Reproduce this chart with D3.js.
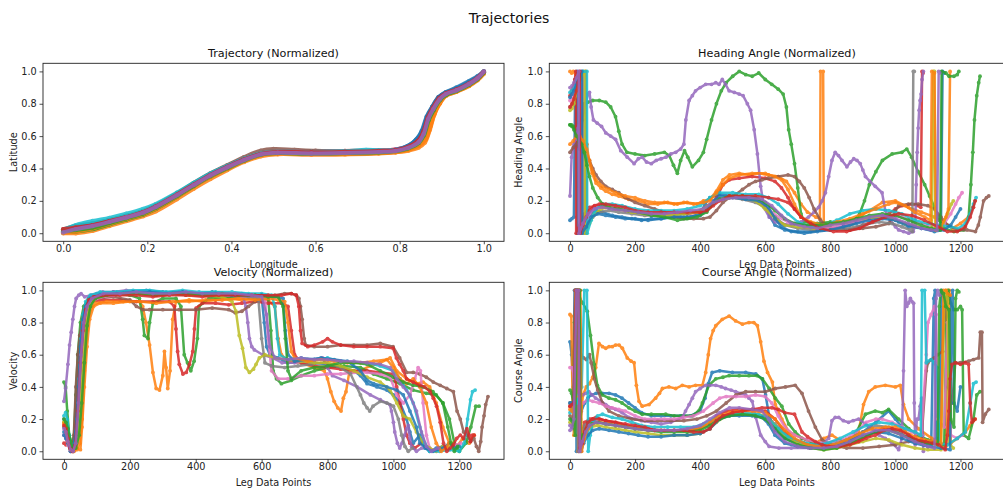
<!DOCTYPE html>
<html>
<head>
<meta charset="utf-8">
<script src="https://cdn.jsdelivr.net/npm/d3@7"></script>
<style>
  body { margin: 0; background: #fff; }
  svg { display: block; }
  text { font-family: "DejaVu Sans", sans-serif; }
</style>
</head>
<body>
<svg id="fig" width="1003" height="494"></svg>
<script>
// One colour per leg (matplotlib tab10 cycle)
const legColors = ["#1f77b4","#ff7f0e","#2ca02c","#d62728","#9467bd","#8c564b","#e377c2","#7f7f7f","#bcbd22","#17becf","#1f77b4","#ff7f0e","#2ca02c","#d62728","#9467bd"];

const unitTicks = [0, 0.2, 0.4, 0.6, 0.8, 1.0];
const pointTicks = [0, 200, 400, 600, 800, 1000, 1200];

// Normalized track of every leg: [longitude, latitude]
const trackLegs = [
  [[0,.01],[.03,.035],[.07,.055],[.11,.08],[.15,.105],[.19,.135],[.22,.17],[.27,.24],[.31,.305],[.35,.365],[.39,.415],[.43,.46],[.47,.495],[.51,.505],[.59,.5],[.67,.502],[.75,.51],[.79,.515],[.82,.54],[.84,.58],[.855,.64],[.865,.72],[.878,.78],[.893,.84],[.91,.872],[.935,.9],[.965,.94],[.985,.97],[.998,.995]],
  [[0,0],[.03,0],[.07,.015],[.11,.045],[.15,.075],[.19,.105],[.22,.135],[.27,.21],[.31,.275],[.35,.335],[.39,.39],[.43,.44],[.47,.475],[.51,.488],[.59,.485],[.67,.487],[.75,.492],[.79,.5],[.82,.51],[.845,.53],[.86,.56],[.872,.64],[.882,.73],[.895,.8],[.91,.85],[.935,.875],[.965,.91],[.985,.945],[1,.985]],
  [[0,.01],[.03,.01],[.07,.025],[.11,.055],[.15,.085],[.19,.115],[.22,.15],[.27,.225],[.31,.29],[.35,.35],[.39,.4],[.43,.448],[.47,.485],[.51,.495],[.59,.49],[.67,.492],[.75,.497],[.79,.505],[.82,.52],[.845,.55],[.858,.6],[.87,.7],[.882,.765],[.897,.825],[.912,.858],[.935,.88],[.965,.92],[.985,.955],[1,.995]],
  [[0,.02],[.03,.04],[.07,.055],[.11,.08],[.15,.105],[.19,.135],[.22,.17],[.27,.242],[.31,.305],[.35,.362],[.39,.412],[.43,.458],[.47,.495],[.51,.505],[.59,.505],[.67,.508],[.75,.512],[.79,.518],[.82,.535],[.842,.57],[.856,.63],[.866,.72],[.878,.78],[.893,.84],[.91,.865],[.935,.888],[.965,.928],[.985,.962],[1,1]],
  [[0,.005],[.03,.03],[.07,.05],[.11,.075],[.15,.1],[.19,.13],[.22,.165],[.27,.237],[.31,.3],[.35,.36],[.39,.41],[.43,.455],[.47,.49],[.51,.5],[.59,.495],[.67,.498],[.75,.504],[.79,.51],[.82,.53],[.845,.566],[.857,.617],[.868,.71],[.88,.77],[.895,.83],[.91,.862],[.935,.885],[.965,.925],[.985,.96],[1,1]],
  [[0,.025],[.03,.045],[.07,.06],[.11,.08],[.15,.105],[.19,.135],[.22,.17],[.27,.245],[.31,.31],[.35,.37],[.39,.42],[.43,.47],[.47,.51],[.5,.52],[.55,.515],[.6,.51],[.67,.508],[.75,.51],[.79,.515],[.82,.53],[.845,.565],[.857,.615],[.868,.705],[.88,.765],[.895,.825],[.91,.858],[.935,.882],[.965,.92],[.985,.955],[1,.995]],
  [[0,.015],[.03,.035],[.07,.05],[.11,.078],[.15,.103],[.19,.132],[.22,.168],[.27,.24],[.31,.302],[.35,.362],[.39,.412],[.43,.458],[.47,.492],[.51,.503],[.59,.502],[.67,.505],[.75,.512],[.79,.518],[.82,.535],[.845,.57],[.857,.62],[.868,.712],[.88,.772],[.895,.832],[.91,.864],[.935,.887],[.965,.927],[.985,.962],[1,1]],
  [[0,.02],[.03,.04],[.07,.06],[.11,.082],[.15,.108],[.19,.138],[.22,.172],[.27,.244],[.31,.306],[.35,.366],[.39,.416],[.43,.46],[.47,.497],[.51,.507],[.59,.503],[.67,.505],[.75,.51],[.79,.515],[.82,.532],[.845,.566],[.857,.615],[.868,.705],[.88,.768],[.895,.828],[.91,.86],[.935,.884],[.965,.924],[.985,.958],[1,.998]],
  [[0,.005],[.03,.02],[.07,.04],[.11,.068],[.15,.095],[.19,.125],[.22,.16],[.27,.232],[.31,.295],[.35,.355],[.39,.405],[.43,.45],[.47,.486],[.51,.497],[.59,.493],[.67,.495],[.75,.5],[.79,.507],[.82,.524],[.845,.556],[.859,.61],[.87,.705],[.882,.768],[.896,.828],[.911,.86],[.935,.882],[.965,.92],[.985,.955],[1,.995]],
  [[0,.02],[.03,.05],[.07,.075],[.11,.095],[.15,.12],[.19,.15],[.22,.18],[.27,.25],[.31,.31],[.35,.368],[.39,.415],[.43,.46],[.47,.492],[.51,.502],[.59,.502],[.67,.506],[.72,.515],[.75,.512],[.79,.515],[.82,.532],[.845,.566],[.857,.617],[.868,.71],[.88,.77],[.895,.83],[.91,.862],[.935,.886],[.965,.926],[.985,.96],[1,1]],
  [[0,.01],[.03,.03],[.07,.048],[.11,.072],[.15,.098],[.19,.128],[.22,.163],[.27,.235],[.31,.298],[.35,.358],[.39,.408],[.43,.453],[.47,.488],[.51,.498],[.59,.494],[.67,.497],[.75,.505],[.79,.515],[.82,.54],[.838,.575],[.852,.63],[.864,.72],[.877,.78],[.892,.84],[.91,.87],[.935,.895],[.965,.935],[.985,.965],[1,.998]],
  [[0,.005],[.03,.01],[.07,.03],[.11,.058],[.15,.088],[.19,.118],[.22,.152],[.27,.226],[.31,.29],[.35,.35],[.39,.4],[.43,.448],[.47,.483],[.51,.493],[.59,.49],[.67,.49],[.75,.495],[.79,.5],[.82,.515],[.845,.54],[.862,.58],[.873,.66],[.883,.74],[.896,.805],[.91,.85],[.935,.874],[.965,.912],[.985,.948],[1,.99]],
  [[0,.015],[.03,.02],[.07,.035],[.11,.063],[.15,.092],[.19,.122],[.22,.157],[.27,.23],[.31,.293],[.35,.353],[.39,.403],[.43,.45],[.47,.486],[.51,.496],[.59,.492],[.67,.495],[.75,.5],[.79,.508],[.82,.525],[.845,.558],[.858,.608],[.869,.7],[.881,.762],[.896,.824],[.911,.856],[.935,.879],[.965,.918],[.985,.952],[1,.993]],
  [[0,.025],[.03,.035],[.07,.05],[.11,.075],[.15,.1],[.19,.13],[.22,.165],[.27,.238],[.31,.3],[.35,.36],[.39,.41],[.43,.456],[.47,.49],[.51,.502],[.59,.5],[.67,.503],[.75,.508],[.79,.513],[.82,.533],[.843,.57],[.856,.625],[.867,.715],[.879,.775],[.894,.835],[.91,.865],[.935,.888],[.965,.926],[.985,.96],[1,.998]],
  [[0,.005],[.03,.025],[.07,.045],[.11,.07],[.15,.097],[.19,.127],[.22,.162],[.27,.234],[.31,.297],[.35,.357],[.39,.407],[.43,.452],[.47,.487],[.51,.497],[.59,.493],[.67,.496],[.75,.502],[.79,.508],[.82,.527],[.845,.562],[.857,.613],[.868,.706],[.88,.767],[.895,.827],[.91,.86],[.935,.883],[.965,.922],[.985,.957],[1,.998]]
];

// Normalized heading per leg: [data point index, value]
const headingLegs = [
  [[0,.08],[6,.09],[12,.1],[16,.95],[22,1],[23,0],[35,.03],[50,.08],[65,.12],[80,.14],[100,.13],[130,.11],[160,.1],[190,.09],[220,.08],[250,.09],[280,.09],[310,.1],[340,.1],[370,.1],[400,.12],[415,.18],[430,.22],[460,.24],[500,.23],[540,.22],[580,.21],[600,.17],[615,.1],[630,.05],[660,.02],[700,.01],[740,.01],[780,.02],[820,.03],[860,.05],[900,.08],[940,.1],[980,.1],[1010,.07],[1040,.04],[1080,.03],[1110,.02],[1140,.03],[1145,1],[1150,.99]],
  [[0,1],[5,.99],[10,1],[20,.97],[30,.98],[40,.99],[48,1],[50,0],[52,.55],[58,.45],[68,.37],[80,.31],[95,.28],[110,.26],[130,.24],[150,.23],[180,.21],[210,.2],[240,.18],[270,.18],[300,.19],[330,.18],[360,.19],[390,.18],[410,.2],[430,.21],[450,.26],[470,.33],[490,.36],[520,.37],[550,.36],[580,.37],[610,.36],[640,.35],[665,.32],[690,.25],[710,.18],[730,.13],[755,.1],[768,.09],[770,1],[778,1],[780,.06],[800,.06],[840,.06],[880,.09],[920,.14],[960,.19],[1000,.2],[1040,.16],[1080,.13],[1120,.1],[1150,.07],[1175,.03],[1200,.06],[1225,.1],[1238,.16],[1245,.2]],
  [[0,.67],[5,.67],[10,.66],[14,.65],[20,.6],[26,.55],[32,.52],[38,.7],[45,.8],[55,.81],[70,.82],[90,.82],[110,.81],[125,.78],[140,.72],[150,.63],[160,.55],[175,.5],[200,.49],[230,.48],[260,.49],[290,.5],[305,.48],[318,.42],[330,.37],[340,.45],[352,.51],[362,.47],[376,.41],[395,.45],[410,.5],[420,.58],[435,.7],[450,.8],[465,.88],[480,.93],[500,.97],[520,1],[540,.98],[560,.97],[580,.99],[600,.95],[620,.92],[640,.89],[655,.86],[665,.78],[672,.64],[680,.55],[690,.43],[700,.28],[710,.12],[720,.07],[760,.06],[800,.07],[840,.06],[870,.06],[890,.12],[905,.2],[920,.3],[940,.38],[960,.45],[990,.49],[1020,.5],[1035,.52],[1050,.47],[1070,.38],[1090,.3],[1105,.23],[1120,.16],[1135,.08],[1150,.03],[1180,.01],[1210,.02],[1225,.1],[1232,.3],[1238,.5],[1243,.7],[1250,.85],[1256,.93],[1260,.97]],
  [[0,.85],[5,.88],[10,.9],[15,.95],[18,1],[19,0],[30,.05],[45,.12],[60,.16],[80,.17],[110,.16],[140,.15],[170,.14],[200,.13],[240,.12],[280,.12],[320,.12],[360,.12],[400,.13],[430,.16],[450,.22],[470,.3],[490,.33],[520,.34],[560,.35],[600,.34],[630,.32],[650,.28],[670,.22],[690,.15],[710,.1],[740,.06],[780,.03],[820,.02],[860,.02],[900,.05],[940,.08],[980,.12],[1000,.15],[1020,.17],[1050,.18],[1070,.17],[1078,.16],[1082,1],[1085,.99]],
  [[0,.23],[5,.47],[12,.55],[17,.58],[25,.65],[33,.72],[40,.76],[48,.8],[55,.86],[60,.87],[65,.78],[72,.7],[84,.68],[97,.66],[110,.62],[125,.6],[140,.58],[156,.51],[176,.47],[197,.43],[210,.46],[222,.47],[235,.44],[250,.43],[265,.45],[280,.46],[295,.47],[310,.49],[325,.5],[340,.52],[350,.55],[356,.7],[366,.82],[376,.85],[386,.88],[400,.9],[417,.92],[435,.92],[448,.93],[458,.92],[468,.95],[478,.92],[489,.88],[505,.87],[520,.86],[532,.85],[545,.8],[555,.76],[566,.64],[576,.49],[586,.29],[596,.16],[612,.1],[630,.07],[650,.06],[680,.05],[710,.07],[733,.1],[750,.13],[764,.16],[775,.2],[785,.25],[795,.35],[805,.45],[815,.5],[825,.48],[836,.45],[851,.41],[862,.44],[872,.46],[882,.45],[892,.43],[900,.39],[908,.35],[922,.32],[938,.29],[959,.25],[969,.14],[984,.08],[1000,.04],[1010,.02],[1025,.01],[1041,0],[1055,.01],[1061,.05],[1064,.3],[1067,.5],[1070,.65],[1073,.76],[1076,.82],[1079,.86],[1082,.95],[1086,1]],
  [[0,.5],[10,.53],[20,.55],[30,.52],[40,.5],[50,.48],[60,.45],[70,.4],[80,.36],[95,.32],[110,.29],[130,.27],[150,.25],[170,.22],[200,.19],[230,.17],[260,.15],[290,.13],[320,.1],[350,.09],[380,.09],[410,.09],[430,.1],[450,.14],[470,.19],[490,.22],[510,.24],[530,.27],[550,.3],[570,.32],[590,.33],[610,.34],[640,.35],[670,.36],[690,.35],[705,.32],[720,.28],[735,.22],[750,.15],[770,.08],[790,.04],[820,.03],[860,.02],[900,.03],[940,.04],[980,.06],[1000,.14],[1010,.17],[1040,.18],[1070,.18],[1100,.17],[1120,.15],[1140,.1],[1160,.05],[1190,.02],[1220,.02],[1246,.01],[1255,.05],[1261,.1],[1271,.2],[1280,.22],[1287,.23]],
  [[0,.82],[8,.85],[15,.9],[25,.95],[33,1],[34,0],[45,.05],[60,.12],[80,.17],[100,.18],[130,.17],[160,.15],[200,.13],[240,.12],[280,.12],[320,.12],[360,.13],[400,.14],[430,.18],[460,.21],[500,.22],[540,.22],[580,.2],[610,.15],[640,.1],[670,.07],[700,.06],[740,.04],[780,.03],[820,.04],[860,.06],[900,.08],[940,.1],[980,.11],[1020,.1],[1060,.07],[1100,.05],[1130,.04],[1150,.06],[1170,.12],[1185,.18],[1195,.22],[1205,.25]],
  [[0,.78],[8,.8],[16,.85],[30,.95],[40,1],[42,0],[55,.06],[70,.1],[90,.13],[120,.14],[150,.13],[190,.12],[230,.11],[270,.11],[310,.11],[350,.12],[390,.13],[420,.17],[450,.2],[490,.22],[530,.21],[570,.19],[600,.16],[630,.1],[660,.05],[700,.03],[750,.02],[800,.02],[850,.03],[900,.05],[950,.07],[990,.06],[1020,.04],[1045,.02],[1052,.01],[1055,1],[1058,1]],
  [[0,.76],[6,.77],[12,.8],[22,.9],[35,.97],[46,1],[47,0],[60,.06],[75,.12],[95,.15],[120,.16],[150,.15],[190,.13],[230,.12],[270,.11],[310,.11],[350,.12],[390,.13],[420,.16],[450,.2],[490,.22],[530,.22],[570,.2],[600,.15],[630,.09],[660,.05],[700,.04],[750,.03],[800,.05],[850,.07],[900,.09],[950,.1],[990,.09],[1030,.06],[1070,.04],[1100,.03],[1112,.03],[1117,1],[1120,1],[1123,.02],[1145,.05],[1160,.12],[1172,.18],[1178,.2]],
  [[0,.87],[5,.88],[12,.9],[22,.94],[32,.98],[40,1],[52,1],[53,0],[65,.08],[80,.15],[100,.18],[130,.18],[160,.17],[200,.15],[240,.14],[280,.14],[320,.14],[360,.15],[400,.17],[430,.22],[460,.25],[500,.25],[540,.24],[580,.24],[610,.22],[640,.18],[670,.12],[700,.07],[740,.04],[780,.05],[820,.08],[860,.12],[900,.14],[940,.15],[980,.14],[1020,.12],[1060,.08],[1100,.06],[1140,.05],[1170,.04],[1195,.03],[1215,.06],[1230,.12],[1240,.18],[1248,.22]],
  [[0,.84],[6,.86],[12,.88],[20,.92],[28,.97],[36,1],[37,0],[50,.04],[65,.1],[85,.12],[110,.11],[140,.1],[170,.09],[200,.09],[240,.08],[280,.09],[320,.1],[360,.1],[400,.11],[420,.14],[440,.2],[460,.23],[500,.22],[540,.21],[580,.2],[610,.16],[630,.09],[650,.04],[680,.01],[720,0],[760,.01],[800,.02],[840,.04],[880,.06],[920,.08],[960,.09],[1000,.08],[1040,.05],[1080,.03],[1120,.01],[1150,.02],[1170,.05],[1185,.1],[1200,.15]],
  [[0,.55],[10,.57],[20,.6],[30,.6],[40,.57],[50,.52],[60,.45],[70,.38],[80,.33],[100,.29],[120,.27],[140,.25],[170,.23],[200,.22],[230,.2],[260,.19],[290,.19],[320,.18],[350,.19],[380,.18],[410,.19],[430,.2],[450,.25],[470,.3],[490,.34],[520,.36],[560,.37],[600,.37],[630,.35],[650,.33],[670,.27],[690,.18],[710,.1],[740,.07],[780,.05],[820,.07],[860,.09],[900,.12],[940,.15],[980,.18],[1000,.19],[1030,.17],[1060,.13],[1090,.1],[1108,.08],[1112,1],[1120,.99],[1125,.02],[1140,.04],[1155,.1],[1163,.15],[1168,1]],
  [[0,.67],[6,.66],[12,.64],[20,.6],[28,.58],[36,.55],[44,.5],[52,.42],[60,.35],[70,.28],[85,.22],[100,.18],[120,.16],[150,.15],[180,.14],[210,.13],[250,.11],[290,.1],[330,.08],[360,.09],[390,.1],[420,.13],[440,.18],[460,.21],[490,.23],[530,.23],[570,.22],[600,.19],[630,.14],[660,.09],[690,.06],[730,.05],[770,.05],[800,.06],[840,.07],[880,.09],[920,.11],[960,.12],[1000,.11],[1040,.08],[1080,.05],[1110,.03],[1138,.02],[1142,1],[1155,.99],[1165,.97],[1180,.97],[1190,.98],[1195,1]],
  [[0,.78],[6,.8],[12,.83],[20,.88],[25,.93],[30,1],[31,0],[40,.05],[50,.1],[60,.14],[75,.17],[90,.18],[110,.18],[140,.17],[170,.16],[200,.14],[240,.13],[280,.13],[320,.13],[360,.13],[400,.13],[420,.14],[440,.17],[460,.2],[490,.23],[530,.23],[570,.23],[610,.22],[640,.21],[670,.19],[690,.15],[710,.1],[740,.06],[770,.03],[810,.01],[850,.01],[890,.03],[930,.07],[970,.1],[1010,.12],[1050,.11],[1090,.08],[1130,.04],[1160,.01],[1190,.01],[1215,.04],[1230,.1],[1240,.16],[1245,.2]],
  [[0,.9],[6,.91],[12,.93],[20,.96],[27,1],[28,0],[40,.06],[55,.12],[75,.15],[100,.16],[130,.15],[170,.14],[210,.13],[250,.12],[290,.12],[330,.13],[370,.14],[410,.15],[440,.19],[470,.21],[510,.22],[550,.22],[590,.21],[620,.17],[650,.11],[680,.06],[720,.04],[760,.03],[800,.05],[840,.06],[880,.08],[920,.1],[960,.11],[1000,.09],[1040,.06],[1080,.03],[1110,.02],[1128,.02],[1133,1],[1136,.99]]
];

// Normalized velocity per leg: [data point index, value]
const velocityLegs = [
  [[0,.12],[6,.1],[12,.05],[20,0],[30,.02],[40,.15],[48,.45],[55,.7],[62,.85],[70,.92],[85,.96],[110,.98],[150,.99],[200,.99],[250,1],[300,.99],[350,.99],[400,.98],[450,.99],[500,.98],[540,.98],[580,.97],[600,.96],[608,.8],[615,.65],[625,.6],[650,.58],[680,.55],[720,.56],[760,.55],[800,.54],[840,.52],[880,.5],[900,.47],[920,.42],[950,.4],[980,.38],[1000,.35],[1020,.3],[1040,.2],[1050,.12],[1060,.05],[1080,.1],[1095,.02],[1110,0],[1130,.02],[1150,.03]],
  [[0,.18],[6,.15],[14,.08],[22,.02],[30,0],[40,.02],[50,.01],[55,.15],[62,.4],[70,.65],[78,.82],[90,.9],[110,.92],[150,.92],[200,.93],[230,.93],[239,.9],[249,.8],[260,.66],[270,.49],[280,.39],[290,.38],[300,.47],[305,.62],[310,.52],[315,.39],[322,.5],[330,.82],[340,.93],[380,.94],[420,.93],[460,.94],[500,.95],[540,.94],[580,.95],[620,.94],[640,.9],[650,.7],[660,.6],[680,.56],[720,.55],[760,.52],[790,.5],[800,.45],[810,.37],[820,.31],[831,.27],[841,.25],[848,.33],[856,.37],[866,.49],[897,.5],[930,.53],[960,.55],[990,.58],[1010,.5],[1040,.45],[1070,.42],[1090,.43],[1110,.4],[1130,.3],[1150,.15],[1170,.05],[1190,.02],[1210,.08],[1230,.05],[1245,.1]],
  [[0,.43],[5,.4],[10,.25],[16,.1],[24,.05],[30,.08],[36,.35],[42,.6],[50,.8],[60,.9],[75,.95],[100,.97],[150,.98],[200,.97],[229,.95],[239,.82],[244,.72],[255,.7],[260,.8],[270,.92],[300,.95],[340,.95],[355,.9],[365,.6],[375,.55],[385,.5],[395,.56],[405,.7],[410,.9],[440,.95],[500,.96],[560,.96],[600,.97],[620,.95],[628,.75],[635,.5],[645,.45],[660,.42],[690,.44],[720,.47],[760,.5],[800,.52],[850,.53],[900,.52],[940,.48],[980,.45],[1020,.42],[1060,.38],[1100,.36],[1130,.35],[1150,.3],[1170,.2],[1185,.05],[1200,0],[1220,.05],[1235,.15],[1250,.28],[1260,.28]],
  [[0,.05],[6,.04],[12,.1],[18,.03],[25,0],[32,.05],[40,.3],[48,.6],[55,.8],[65,.9],[80,.93],[120,.94],[170,.94],[220,.93],[270,.93],[320,.93],[335,.9],[340,.76],[345,.62],[350,.54],[361,.48],[371,.49],[381,.54],[391,.62],[396,.76],[401,.89],[420,.92],[460,.92],[500,.91],[540,.92],[580,.93],[620,.92],[660,.92],[680,.9],[690,.75],[700,.6],[720,.55],[760,.53],[800,.52],[840,.51],[880,.5],[920,.5],[960,.49],[1000,.48],[1010,.4],[1020,.3],[1030,.2],[1040,.1],[1050,.05],[1065,.02],[1085,.05]],
  [[0,.31],[5,.39],[12,.54],[17,.66],[22,.74],[27,.82],[32,.9],[37,.95],[45,.97],[52,.98],[63,.96],[83,.97],[100,.98],[118,.99],[150,.99],[189,1],[250,.99],[300,.98],[350,.98],[400,.97],[450,.97],[500,.97],[542,.97],[552,.9],[558,.8],[563,.7],[570,.65],[578,.63],[603,.6],[633,.58],[662,.55],[700,.55],[734,.56],[760,.57],[785,.58],[800,.52],[815,.47],[850,.44],[890,.4],[930,.35],[960,.32],[989,.29],[994,.25],[1000,.18],[1004,.12],[1012,.05],[1019,.02],[1026,.05],[1034,.1],[1040,.14],[1045,.16],[1050,.08],[1055,.03],[1070,0],[1086,.02]],
  [[0,.15],[6,.12],[12,.06],[18,.02],[24,0],[30,.1],[36,.4],[42,.6],[48,.72],[55,.8],[62,.88],[75,.93],[100,.95],[150,.96],[200,.94],[220,.9],[240,.88],[260,.88],[300,.88],[350,.88],[400,.88],[450,.89],[500,.88],[520,.86],[540,.87],[560,.9],[580,.93],[610,.95],[640,.97],[670,.98],[690,.98],[705,.97],[713,.95],[718,.9],[723,.82],[729,.7],[734,.66],[760,.65],[800,.65],[840,.66],[880,.66],[920,.66],[960,.67],[999,.65],[1019,.58],[1040,.49],[1060,.49],[1080,.48],[1100,.46],[1121,.43],[1142,.41],[1162,.39],[1182,.37],[1193,.25],[1203,.2],[1213,.12],[1224,.1],[1234,.06],[1244,.08],[1252,.03],[1259,0],[1265,.06],[1269,.15],[1275,.22],[1280,.29],[1287,.34]],
  [[0,.1],[6,.08],[12,.04],[20,0],[30,.01],[40,.05],[48,.3],[55,.55],[62,.72],[70,.85],[80,.92],[100,.95],[150,.97],[200,.98],[250,.98],[300,.97],[350,.98],[400,.97],[450,.97],[500,.97],[540,.96],[580,.96],[610,.95],[620,.7],[630,.5],[650,.45],[680,.45],[720,.47],[760,.47],[800,.48],[840,.48],[880,.49],[920,.49],[960,.48],[990,.46],[1010,.35],[1030,.3],[1050,.35],[1065,.45],[1075,.52],[1082,.5],[1090,.3],[1100,.1],[1110,.02],[1130,0],[1150,.02],[1170,.01],[1190,.04],[1205,.05]],
  [[0,.2],[6,.18],[12,.1],[20,.02],[28,0],[36,.03],[44,.25],[52,.55],[60,.78],[70,.9],[85,.95],[120,.97],[170,.98],[220,.98],[270,.97],[320,.98],[370,.97],[420,.98],[470,.97],[520,.97],[560,.96],[590,.95],[600,.7],[610,.55],[630,.53],[670,.52],[710,.53],[750,.54],[790,.55],[830,.53],[870,.48],[900,.35],[910,.3],[920,.27],[928,.25],[938,.28],[960,.31],[980,.3],[1000,.28],[1015,.2],[1025,.1],[1035,.03],[1045,0],[1058,.02]],
  [[0,.18],[6,.16],[12,.1],[20,.03],[28,0],[36,.02],[45,.1],[52,.35],[60,.6],[68,.8],[78,.9],[95,.95],[130,.97],[180,.98],[230,.98],[280,.97],[330,.98],[380,.97],[430,.97],[480,.96],[510,.93],[522,.87],[532,.72],[542,.64],[552,.52],[563,.49],[575,.51],[583,.54],[593,.58],[610,.6],[640,.58],[680,.57],[720,.56],[760,.55],[800,.55],[840,.53],[880,.5],[920,.46],[960,.43],[990,.38],[1010,.3],[1030,.22],[1050,.2],[1070,.12],[1090,.05],[1110,.02],[1130,0],[1150,.03],[1165,.02],[1178,.05]],
  [[0,.22],[5,.24],[10,.2],[16,.1],[24,.02],[32,.05],[40,.2],[46,.45],[52,.7],[58,.85],[66,.93],[80,.97],[110,.99],[160,.99],[210,1],[260,1],[310,.99],[360,1],[410,.99],[460,.99],[510,.99],[560,.98],[600,.98],[630,.97],[640,.9],[648,.7],[655,.6],[680,.57],[720,.58],[760,.57],[800,.58],[840,.56],[880,.55],[920,.55],[960,.53],[1000,.5],[1020,.45],[1040,.38],[1060,.3],[1080,.15],[1095,.05],[1110,0],[1140,0],[1170,.01],[1200,0],[1215,.05],[1225,.2],[1234,.32],[1240,.37],[1248,.38]],
  [[0,.1],[6,.08],[12,.05],[20,0],[28,.02],[36,.12],[44,.4],[50,.65],[58,.82],[66,.9],[80,.95],[110,.97],[160,.98],[210,.99],[260,.99],[310,.98],[360,.99],[410,.98],[460,.98],[510,.97],[560,.97],[600,.97],[640,.96],[665,.95],[672,.75],[680,.6],[700,.56],[740,.57],[780,.58],[820,.57],[860,.56],[900,.5],[920,.44],[940,.42],[980,.4],[1010,.38],[1030,.35],[1050,.25],[1070,.15],[1080,.05],[1100,.02],[1120,0],[1150,.02],[1170,.05],[1185,.02],[1200,.03]],
  [[0,.17],[6,.15],[12,.06],[20,.01],[30,0],[40,.01],[48,.05],[55,.2],[62,.5],[70,.75],[80,.88],[95,.92],[130,.93],[180,.93],[230,.93],[280,.92],[330,.93],[380,.93],[430,.94],[480,.94],[530,.95],[580,.94],[620,.95],[650,.94],[670,.93],[680,.8],[690,.62],[700,.58],[740,.56],[780,.57],[820,.56],[860,.55],[900,.55],[940,.56],[980,.57],[1000,.52],[1020,.45],[1040,.42],[1060,.45],[1080,.4],[1100,.3],[1115,.15],[1130,.05],[1145,0],[1160,.02],[1168,.05]],
  [[0,.2],[6,.18],[12,.14],[20,.06],[28,.01],[36,.02],[46,.1],[54,.3],[62,.55],[70,.78],[80,.9],[95,.95],[130,.97],[180,.98],[230,.98],[280,.97],[330,.98],[380,.98],[430,.97],[480,.98],[530,.97],[580,.97],[620,.96],[650,.96],[665,.9],[672,.7],[680,.5],[690,.45],[720,.5],[760,.52],[800,.53],[840,.55],[880,.55],[920,.54],[960,.5],[1000,.46],[1030,.43],[1060,.41],[1090,.4],[1120,.37],[1150,.3],[1165,.15],[1175,.05],[1185,0],[1195,.03]],
  [[0,.16],[6,.14],[12,.08],[18,.02],[26,0],[34,.04],[42,.25],[50,.55],[58,.75],[66,.88],[75,.94],[90,.96],[120,.97],[170,.97],[220,.97],[270,.96],[320,.97],[370,.97],[420,.96],[470,.97],[520,.97],[570,.97],[620,.97],[660,.97],[690,.98],[705,.97],[713,.9],[718,.75],[723,.67],[740,.65],[760,.66],[785,.68],[800,.7],[815,.68],[840,.66],[880,.65],[920,.65],[960,.65],[999,.64],[1009,.58],[1019,.54],[1030,.5],[1040,.45],[1060,.43],[1080,.41],[1095,.4],[1111,.37],[1121,.33],[1131,.28],[1142,.18],[1152,.05],[1162,0],[1172,.02],[1182,.04],[1192,.08],[1203,.1],[1213,.08],[1223,.14],[1230,.1],[1234,.06],[1240,.1],[1245,.1]],
  [[0,.14],[6,.12],[12,.06],[20,.01],[28,0],[36,.05],[44,.3],[52,.6],[60,.8],[70,.9],[85,.95],[120,.98],[170,.98],[220,.99],[270,.98],[320,.98],[370,.99],[420,.98],[470,.98],[520,.98],[570,.97],[600,.96],[615,.85],[625,.65],[640,.58],[680,.57],[720,.58],[760,.57],[800,.57],[840,.56],[880,.56],[920,.55],[960,.54],[990,.52],[1010,.45],[1030,.4],[1050,.35],[1070,.25],[1085,.12],[1100,.03],[1115,0],[1136,.02]]
];

// Normalized course per leg: [data point index, value]
const courseLegs = [
  [[0,.68],[5,.6],[10,.4],[14,1],[18,1],[20,0],[26,.1],[35,.25],[45,.3],[55,.33],[65,.35],[80,.36],[100,.36],[120,.36],[140,.35],[160,.33],[180,.3],[200,.27],[220,.24],[250,.22],[280,.22],[310,.22],[340,.22],[370,.22],[400,.25],[415,.33],[425,.42],[437,.49],[460,.5],[499,.49],[540,.49],[571,.48],[591,.45],[601,.35],[612,.22],[632,.13],[660,.08],[700,.05],[740,.03],[780,.03],[820,.04],[860,.06],[900,.12],[940,.18],[979,.25],[1000,.2],[1020,.15],[1040,.1],[1060,.06],[1080,.05],[1100,.04],[1110,.03],[1118,.95],[1122,1],[1126,.08],[1135,.05],[1142,1],[1146,.98],[1150,.96]],
  [[0,.85],[4,.84],[8,.3],[12,.1],[18,1],[22,1],[25,0],[32,.2],[40,.35],[50,.4],[60,.42],[70,.46],[79,.52],[89,.67],[100,.65],[110,.64],[120,.65],[130,.65],[140,.66],[151,.66],[161,.64],[176,.58],[188,.56],[197,.55],[204,.41],[212,.31],[222,.28],[243,.29],[263,.33],[275,.36],[284,.39],[304,.4],[325,.39],[345,.41],[366,.4],[386,.41],[407,.41],[417,.49],[425,.6],[432,.7],[440,.75],[448,.78],[468,.82],[489,.84],[509,.81],[530,.79],[550,.8],[565,.8],[576,.78],[586,.68],[596,.56],[607,.49],[622,.43],[631,.29],[651,.2],[672,.12],[713,.08],[754,.05],[780,.08],[805,.1],[836,.06],[870,.08],[887,.12],[902,.29],[918,.37],[938,.4],[969,.41],[1000,.4],[1015,.41],[1025,.29],[1041,.2],[1071,.14],[1112,.08],[1143,.04],[1155,.03],[1162,1],[1166,1],[1170,.05],[1190,.08],[1215,.12],[1230,.16],[1245,.2]],
  [[0,.38],[5,.36],[10,.3],[14,.8],[18,1],[22,.98],[30,.95],[40,.92],[53,.87],[63,.72],[74,.54],[84,.41],[99,.35],[120,.33],[140,.32],[160,.3],[181,.27],[200,.25],[222,.23],[250,.23],[294,.23],[320,.22],[345,.22],[376,.22],[395,.25],[407,.3],[427,.41],[448,.45],[470,.46],[489,.47],[520,.47],[550,.47],[575,.47],[591,.45],[612,.39],[631,.33],[651,.28],[672,.17],[692,.12],[713,.08],[750,.05],[790,.04],[830,.04],[870,.08],[908,.23],[938,.25],[960,.24],[979,.26],[1010,.2],[1041,.14],[1070,.1],[1100,.07],[1130,.05],[1150,.04],[1158,.95],[1162,1],[1170,.92],[1180,.88],[1190,.88],[1200,.9],[1205,.88],[1210,.1],[1225,.08],[1240,.2],[1250,.35],[1260,.37]],
  [[0,.28],[6,.27],[12,.3],[16,1],[24,1],[28,0],[35,.1],[45,.18],[60,.2],[80,.21],[110,.19],[140,.18],[170,.16],[200,.15],[240,.14],[280,.13],[320,.13],[360,.13],[400,.14],[430,.17],[450,.22],[480,.25],[520,.26],[560,.26],[600,.25],[630,.2],[660,.12],[690,.07],[720,.05],[760,.03],[800,.02],[840,.03],[880,.06],[920,.1],[960,.14],[990,.13],[1020,.1],[1050,.08],[1070,.06],[1085,.05]],
  [[0,.13],[5,.14],[12,.2],[18,.28],[23,.31],[30,.34],[38,.35],[48,.36],[58,.37],[68,.35],[79,.33],[95,.31],[110,.29],[125,.27],[140,.26],[160,.24],[181,.21],[200,.2],[220,.19],[250,.18],[280,.17],[310,.18],[345,.21],[355,.25],[366,.29],[376,.33],[386,.37],[400,.39],[417,.41],[430,.41],[448,.41],[465,.4],[478,.39],[495,.38],[509,.37],[525,.36],[540,.35],[550,.33],[560,.31],[571,.21],[586,.1],[600,.06],[612,.03],[642,.02],[680,.02],[733,.02],[770,.04],[795,.08],[805,.19],[815,.21],[826,.21],[840,.19],[856,.18],[870,.19],[887,.2],[908,.17],[928,.14],[950,.1],[969,.08],[990,.05],[1010,.01],[1020,.08],[1025,.5],[1030,1],[1035,.9],[1040,.92],[1046,.95],[1051,.93],[1056,.92],[1058,.3],[1061,.04],[1066,.2],[1071,.2],[1076,.28],[1081,.33],[1084,.1],[1086,0]],
  [[0,.22],[6,.2],[12,.22],[18,1],[26,1],[34,.6],[42,.58],[50,.57],[60,.6],[65,.55],[75,.45],[85,.38],[100,.3],[120,.25],[150,.22],[190,.2],[230,.19],[270,.19],[310,.19],[350,.19],[390,.2],[420,.22],[450,.25],[480,.3],[510,.35],[540,.37],[570,.37],[600,.37],[631,.39],[662,.4],[692,.41],[713,.36],[733,.25],[754,.15],[775,.07],[800,.04],[850,.02],[900,.02],[950,.03],[1000,.04],[1040,.06],[1080,.07],[1095,.5],[1100,.55],[1110,.57],[1120,.58],[1130,.6],[1145,.62],[1152,.9],[1157,.95],[1162,.4],[1175,.3],[1184,.55],[1200,.55],[1225,.56],[1240,.57],[1256,.58],[1261,.74],[1266,.74],[1268,.18],[1276,.23],[1287,.26]],
  [[0,.52],[5,.52],[10,.5],[14,.3],[18,1],[24,1],[30,.3],[40,.3],[55,.32],[70,.31],[90,.3],[110,.28],[130,.27],[150,.26],[170,.25],[200,.22],[230,.2],[260,.2],[290,.2],[320,.2],[350,.21],[380,.22],[410,.25],[440,.3],[460,.33],[480,.34],[510,.34],[540,.34],[570,.35],[600,.34],[620,.3],[640,.22],[660,.15],[690,.1],[730,.07],[770,.05],[810,.06],[850,.08],[880,.12],[910,.18],[940,.2],[960,.2],[990,.18],[1020,.15],[1050,.12],[1080,.1],[1095,.6],[1100,.8],[1110,.85],[1120,.9],[1125,.85],[1130,.2],[1150,.15],[1160,.8],[1165,.82],[1170,.1],[1190,.08],[1205,.1]],
  [[0,.3],[6,.29],[12,.25],[16,1],[22,1],[26,0],[35,.1],[45,.16],[55,.18],[70,.19],[90,.18],[120,.17],[150,.16],[180,.15],[220,.14],[260,.13],[300,.13],[340,.13],[380,.14],[420,.16],[450,.2],[480,.22],[520,.23],[560,.23],[600,.22],[630,.17],[660,.1],[700,.05],[740,.03],[780,.03],[820,.05],[860,.08],[900,.12],[940,.16],[980,.15],[1010,.12],[1040,.08],[1058,.06]],
  [[0,.18],[6,.17],[12,.15],[18,1],[28,1],[32,0],[40,.08],[50,.12],[65,.15],[85,.16],[110,.15],[140,.14],[170,.13],[200,.12],[240,.11],[280,.1],[320,.1],[360,.1],[400,.11],[430,.14],[450,.18],[480,.22],[520,.23],[560,.23],[600,.22],[630,.16],[660,.1],[700,.05],[740,.02],[780,.01],[820,.02],[860,.04],[900,.06],[940,.08],[980,.07],[1020,.04],[1060,.02],[1100,.01],[1140,.01],[1150,.9],[1155,1],[1160,.95],[1165,.05],[1178,.02]],
  [[0,.24],[6,.26],[12,.28],[20,.3],[28,.35],[36,.4],[44,1],[52,1],[56,0],[62,.1],[70,.18],[85,.22],[100,.23],[130,.21],[160,.2],[190,.18],[220,.16],[260,.15],[300,.15],[340,.15],[380,.15],[410,.17],[440,.2],[470,.22],[500,.23],[540,.24],[580,.23],[610,.2],[640,.14],[670,.09],[710,.06],[750,.04],[790,.05],[830,.08],[870,.12],[910,.16],[950,.18],[990,.17],[1030,.14],[1060,.12],[1078,.1],[1082,1],[1090,1],[1095,.55],[1100,.56],[1110,.57],[1120,.55],[1128,.52],[1135,.05],[1160,.04],[1190,.08],[1215,.12],[1230,.3],[1240,.42],[1248,.43]],
  [[0,.3],[6,.3],[12,.27],[20,1],[30,1],[34,0],[42,.05],[55,.1],[70,.13],[90,.14],[120,.13],[150,.12],[180,.11],[210,.1],[240,.09],[280,.09],[320,.1],[360,.1],[400,.11],[430,.14],[460,.2],[490,.22],[520,.22],[560,.22],[590,.21],[610,.17],[630,.1],[660,.05],[700,.03],[740,.02],[780,.02],[820,.04],[860,.07],[900,.1],[940,.12],[980,.11],[1020,.08],[1060,.05],[1100,.03],[1140,.02],[1168,.01],[1172,.95],[1176,1],[1180,.3],[1190,.25],[1200,.4]],
  [[0,.26],[6,.25],[12,.28],[18,.34],[24,1],[32,1],[36,0],[44,.08],[55,.14],[70,.17],[90,.18],[120,.17],[150,.16],[180,.15],[210,.14],[240,.13],[280,.13],[320,.13],[360,.13],[400,.14],[430,.18],[460,.22],[490,.24],[520,.25],[560,.25],[600,.24],[630,.2],[660,.13],[690,.08],[730,.04],[770,.03],[810,.04],[850,.07],[890,.11],[930,.14],[970,.15],[1000,.15],[1030,.12],[1060,.09],[1090,.07],[1120,.06],[1140,.05],[1148,1],[1155,1],[1160,.98],[1168,.97]],
  [[0,.2],[6,.19],[12,.16],[16,.1],[22,1],[30,1],[32,.05],[40,.1],[50,.14],[65,.17],[85,.18],[110,.17],[140,.16],[170,.15],[200,.14],[240,.13],[280,.12],[320,.12],[360,.12],[400,.13],[430,.16],[460,.2],[490,.22],[530,.23],[570,.22],[600,.2],[630,.14],[660,.08],[700,.04],[740,.02],[780,.01],[820,.02],[860,.05],[900,.09],[940,.12],[980,.13],[1020,.1],[1060,.07],[1100,.05],[1130,.04],[1135,.9],[1140,1],[1148,.98],[1155,.9],[1165,.88],[1170,.2],[1180,.15],[1185,.95],[1190,1],[1195,.99]],
  [[0,.28],[6,.29],[12,.3],[18,1],[26,1],[30,.02],[38,.05],[45,.12],[55,.18],[70,.2],[90,.2],[110,.19],[140,.18],[170,.17],[200,.16],[230,.15],[260,.13],[290,.13],[320,.13],[350,.13],[380,.12],[410,.12],[430,.14],[450,.19],[470,.22],[500,.24],[530,.25],[560,.26],[590,.27],[620,.27],[640,.26],[660,.24],[690,.23],[713,.12],[730,.09],[754,.06],[775,.04],[795,.03],[830,.03],[860,.04],[887,.06],[910,.08],[938,.1],[965,.13],[990,.14],[1015,.13],[1041,.1],[1065,.07],[1092,.06],[1115,.05],[1133,.04],[1153,.01],[1160,.1],[1164,.25],[1168,.45],[1174,.54],[1184,.55],[1200,.54],[1215,.55],[1225,.54],[1230,.3],[1235,.18],[1240,.19],[1245,.2]],
  [[0,.16],[6,.15],[12,.2],[20,1],[26,1],[30,0],[38,.06],[48,.12],[60,.16],[80,.18],[110,.17],[140,.16],[170,.15],[200,.14],[240,.13],[280,.13],[320,.13],[360,.14],[400,.16],[430,.2],[460,.24],[490,.27],[520,.27],[560,.26],[590,.25],[610,.2],[630,.12],[660,.06],[700,.03],[740,.02],[780,.02],[820,.03],[860,.06],[900,.1],[940,.13],[980,.13],[1020,.1],[1060,.06],[1100,.03],[1120,.02],[1125,.95],[1130,1],[1136,.97]]
];

const svg = d3.select("#fig");
const fmt1 = d3.format(".1f");
const fmt0 = d3.format("d");

// Axes boxes in pixels
const panels = [
  { title: "Trajectory (Normalized)", xlabel: "Longitude", ylabel: "Latitude",
    legs: trackLegs, left: 43, right: 504, top: 63.3, bottom: 241.3,
    xdom: [-0.048, 1.048], xticks: unitTicks, xfmt: fmt1, ylabX: 17, track: true },
  { title: "Heading Angle (Normalized)", xlabel: "Leg Data Points", ylabel: "Heading Angle",
    legs: headingLegs, left: 549.3, right: 1004.6, top: 63.3, bottom: 241.3,
    xdom: [-63.6, 1335.6], xticks: pointTicks, xfmt: fmt0, ylabX: 521.8 },
  { title: "Velocity (Normalized)", xlabel: "Leg Data Points", ylabel: "Velocity",
    legs: velocityLegs, left: 43, right: 504, top: 282.3, bottom: 459.3,
    xdom: [-63.6, 1335.6], xticks: pointTicks, xfmt: fmt0, ylabX: 17 },
  { title: "Course Angle (Normalized)", xlabel: "Leg Data Points", ylabel: "Course Angle",
    legs: courseLegs, left: 549.3, right: 1004.6, top: 282.3, bottom: 459.3,
    xdom: [-63.6, 1335.6], xticks: pointTicks, xfmt: fmt0, ylabX: 521.8 }
];

const defs = svg.append("defs");

panels.forEach((p, pi) => {
  const x = d3.scaleLinear().domain(p.xdom).range([p.left, p.right]);
  const y = d3.scaleLinear().domain([-0.05, 1.05]).range([p.bottom, p.top]);

  defs.append("clipPath").attr("id", "clip" + pi)
    .append("rect").attr("x", p.left).attr("y", p.top)
    .attr("width", p.right - p.left).attr("height", p.bottom - p.top);

  const plot = svg.append("g").attr("clip-path", `url(#clip${pi})`);
  const line = d3.line().x(d => x(d[0])).y(d => y(d[1]))
    .curve(p.track ? d3.curveCatmullRom : d3.curveLinear);

  p.legs.forEach((leg, i) => {
    const g = plot.append("g").attr("opacity", 0.85);
    g.append("path").attr("d", line(leg))
      .attr("fill", "none").attr("stroke", legColors[i])
      .attr("stroke-width", p.track ? 4 : 2.5).attr("stroke-linejoin", "round");
    g.selectAll("circle").data(leg).join("circle")
      .attr("cx", d => x(d[0])).attr("cy", d => y(d[1]))
      .attr("r", p.track ? 2.2 : 1.9).attr("fill", legColors[i]);
  });

  // frame
  svg.append("rect").attr("x", p.left).attr("y", p.top)
    .attr("width", p.right - p.left).attr("height", p.bottom - p.top)
    .attr("fill", "none").attr("stroke", "#222").attr("stroke-width", 0.9);

  const xAxis = svg.append("g").attr("transform", `translate(0,${p.bottom})`)
    .call(d3.axisBottom(x).tickValues(p.xticks).tickFormat(p.xfmt).tickSize(3).tickPadding(1.2));
  const yAxis = svg.append("g").attr("transform", `translate(${p.left},0)`)
    .call(d3.axisLeft(y).tickValues(unitTicks).tickFormat(fmt1).tickSize(3.5).tickPadding(2.8));
  [xAxis, yAxis].forEach(a => {
    a.select(".domain").remove();
    a.attr("font-family", "DejaVu Sans").attr("font-size", 9.7);
    a.selectAll("line").attr("stroke", "#222").attr("stroke-width", 0.8);
    a.selectAll("text").attr("fill", "#222");
  });

  const cx = (p.left + p.right) / 2;
  svg.append("text").attr("x", cx).attr("y", p.top - 6.3)
    .attr("text-anchor", "middle").attr("font-size", 11.2).attr("fill", "#111").text(p.title);
  svg.append("text").attr("x", cx).attr("y", p.bottom + 26.2)
    .attr("text-anchor", "middle").attr("font-size", 9.7).attr("fill", "#222").text(p.xlabel);
  svg.append("text")
    .attr("transform", `translate(${p.ylabX},${(p.top + p.bottom) / 2}) rotate(-90)`)
    .attr("text-anchor", "middle").attr("font-size", 9.7).attr("fill", "#222").text(p.ylabel);
});

svg.append("text").attr("x", 509).attr("y", 22.5).attr("text-anchor", "middle")
  .attr("font-size", 14).attr("fill", "#111").text("Trajectories");
</script>
</body>
</html>
